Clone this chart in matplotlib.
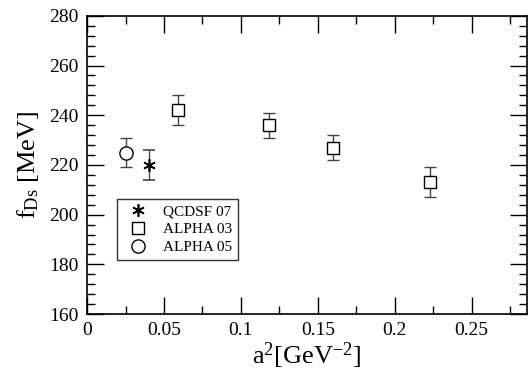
import matplotlib
matplotlib.use("Agg")
import matplotlib.pyplot as plt
from matplotlib.lines import Line2D
from matplotlib.ticker import MultipleLocator, AutoMinorLocator

plt.rcParams["font.family"] = ["Liberation Serif", "DejaVu Serif"]
plt.rcParams["mathtext.fontset"] = "custom"
plt.rcParams["mathtext.rm"] = "Liberation Serif"
plt.rcParams["mathtext.it"] = "Liberation Serif:italic"

# QCDSF 07
qcdsf_a2 = [0.040]
qcdsf_f = [220]
qcdsf_err = [6]

# ALPHA 03
alpha03_a2 = [0.059, 0.118, 0.160, 0.223]
alpha03_f = [242, 236, 227, 213]
alpha03_err = [6, 5, 5, 6]

# ALPHA 05
alpha05_a2 = [0.025]
alpha05_f = [225]
alpha05_err = [6]

fig = plt.figure(figsize=(5.28, 3.77), dpi=100)
ax = fig.add_axes([0.165, 0.167, 0.833, 0.791])

ERR_COLOR = "#444444"
common = dict(linestyle="none", ecolor=ERR_COLOR, elinewidth=1.0,
              capsize=4.5, capthick=1.0)

STAR = dict(marker=(6, 2, 0), ms=9, mew=1.2, color="black")
SQUARE = dict(marker="s", ms=8.5, mew=1.0, mfc="white", mec="black")
CIRCLE = dict(marker="o", ms=9.5, mew=1.0, mfc="white", mec="black")

ax.errorbar(qcdsf_a2, qcdsf_f, yerr=qcdsf_err, **STAR, **common)
ax.errorbar(alpha03_a2, alpha03_f, yerr=alpha03_err, **SQUARE, **common)
ax.errorbar(alpha05_a2, alpha05_f, yerr=alpha05_err, **CIRCLE, **common)

ax.set_xlim(0, 0.286)
ax.set_ylim(160, 280)
ax.set_xticks([0, 0.05, 0.1, 0.15, 0.2, 0.25])
ax.set_xticklabels(["0", "0.05", "0.1", "0.15", "0.2", "0.25"])
ax.xaxis.set_minor_locator(AutoMinorLocator(2))
ax.yaxis.set_major_locator(MultipleLocator(20))
ax.yaxis.set_minor_locator(AutoMinorLocator(5))

ax.tick_params(which="both", direction="in", top=True, right=True,
               labelsize=14, width=1.0, pad=6)
ax.tick_params(which="major", length=12)
ax.tick_params(which="minor", length=6)
for s in ax.spines.values():
    s.set_linewidth(1.2)

ax.set_xlabel(r"a$^{\mathregular{2}}$[GeV$^{\mathregular{-2}}$]", fontsize=19, labelpad=1)
ax.set_ylabel(r"f$_{\mathregular{Ds}}$ [MeV]", fontsize=19, labelpad=6)

# legend shows markers only, no error bars
handles = [
    Line2D([], [], linestyle="none", **STAR),
    Line2D([], [], linestyle="none", **SQUARE),
    Line2D([], [], linestyle="none", **CIRCLE),
]
labels = ["QCDSF 07", "ALPHA 03", "ALPHA 05"]
leg = ax.legend(handles, labels, loc="lower left", bbox_to_anchor=(0.068, 0.182),
                fontsize=11, frameon=True, fancybox=False, edgecolor="black",
                handlelength=2.0, handletextpad=0.67, borderpad=0.35,
                labelspacing=0.28, borderaxespad=0, numpoints=1)
leg.get_frame().set_linewidth(1.0)

fig.savefig("out.png", dpi=100)
